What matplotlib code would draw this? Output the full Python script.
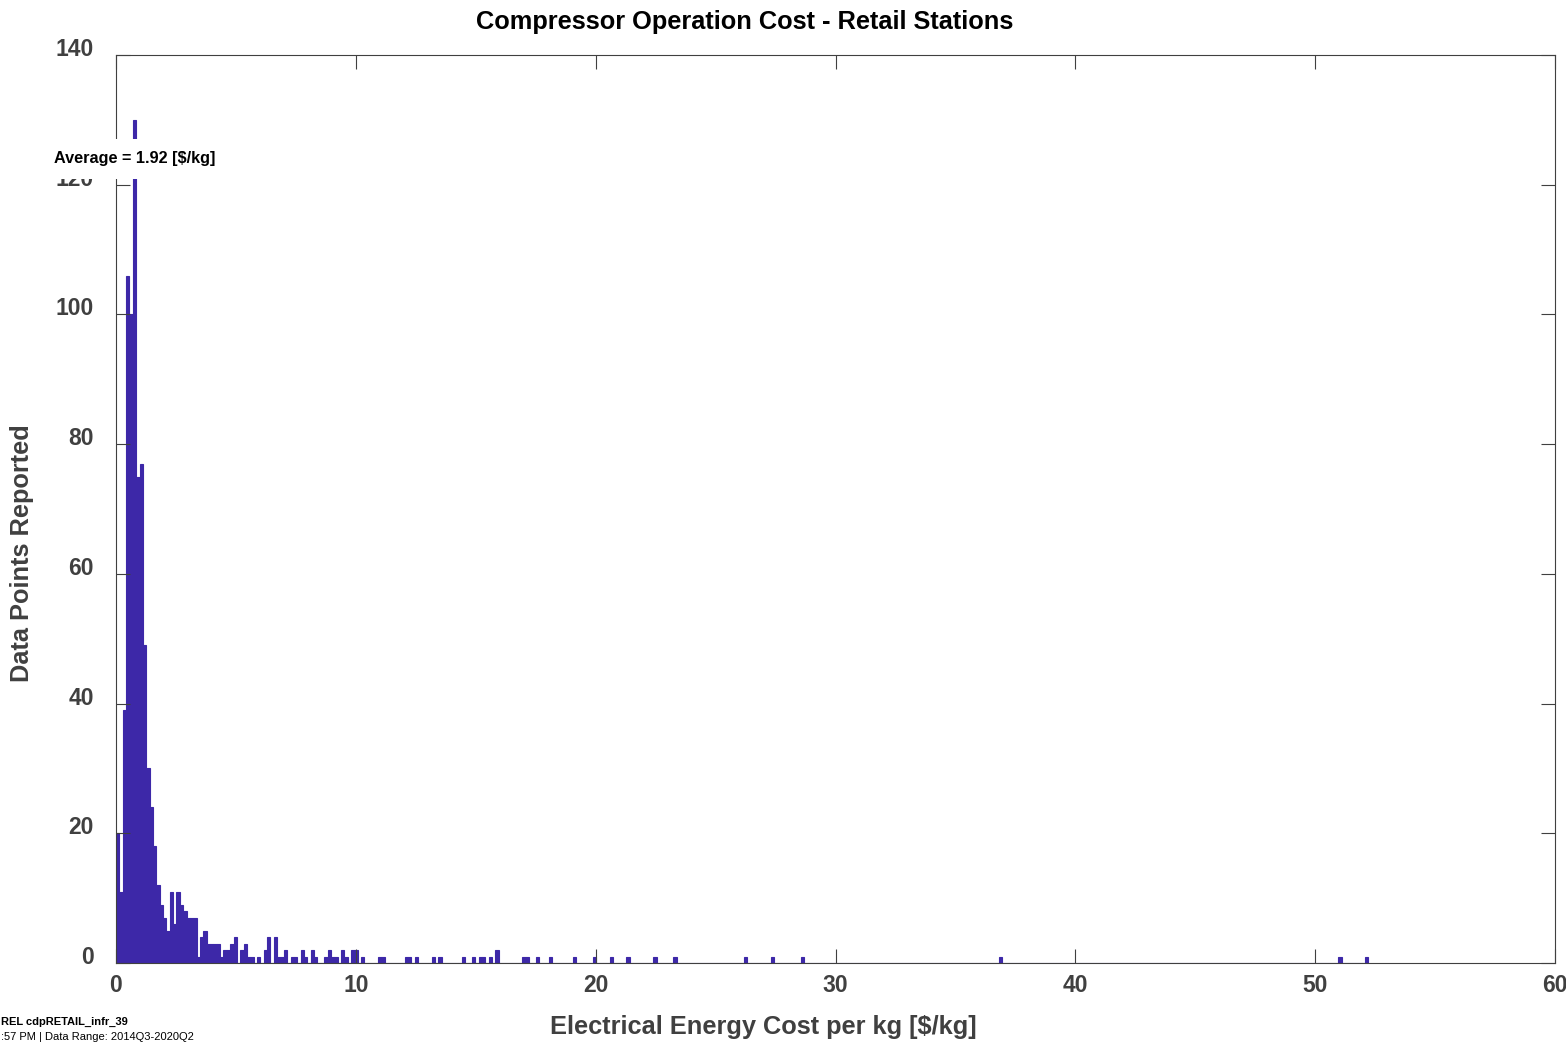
import numpy as np
import matplotlib.pyplot as plt
from matplotlib.transforms import ScaledTranslation

plt.rcParams['font.family'] = ['Liberation Sans', 'DejaVu Sans']

# histogram data, bin width in $/kg
bin_width = 0.14
n_bins = 373

# counts of the first bins, starting at 0 $/kg
dense_counts = [20, 11, 39, 106, 100, 130, 75, 77, 49, 30,
                24, 18, 12, 9, 7, 5, 11, 6, 11, 9,
                8, 7, 7, 7, 1, 4, 5, 3, 3, 3,
                3, 1, 2, 2, 3, 4, 0]

# sparse tail: position [$/kg] and count
tail_x = [5.24, 5.45, 5.56, 5.70, 5.93, 6.21, 6.42, 6.63, 6.77, 6.89,
          7.03, 7.33, 7.54, 7.74, 7.88, 8.23, 8.33, 8.74, 8.92, 9.03,
          9.20, 9.44, 9.56, 9.83, 10.04, 10.31, 11.00, 11.14, 12.07, 12.28,
          12.58, 13.30, 13.50, 14.45, 14.95, 15.20, 15.35, 15.60, 15.95, 16.95,
          17.10, 17.60, 18.10, 19.05, 19.95, 20.60, 21.35, 22.45, 23.25, 26.20,
          27.35, 28.62, 36.93, 51.04, 52.17]
tail_n = [2, 3, 1, 1, 1, 2, 4, 4, 1, 1,
          2, 1, 1, 2, 1, 2, 1, 1, 2, 1,
          1, 2, 1, 2, 2, 1, 1, 1, 1, 1,
          1, 1, 1, 1, 1, 1, 1, 1, 2, 1,
          1, 1, 1, 1, 1, 1, 1, 1, 1, 1,
          1, 1, 1, 1, 1]

average = 1.92
title = 'Compressor Operation Cost - Retail Stations'
xlabel = 'Electrical Energy Cost per kg [$/kg]'
ylabel = 'Data Points Reported'
# footer as far as it is visible in the picture
footer1 = 'REL cdpRETAIL_infr_39'
footer2 = ':57 PM | Data Range: 2014Q3-2020Q2'

counts = np.zeros(n_bins)
counts[:len(dense_counts)] = dense_counts
for x, n in zip(tail_x, tail_n):
    counts[int(x // bin_width)] += n
left_edges = np.arange(n_bins) * bin_width

bar_color = '#3D28A8'
axis_color = '#404040'

fig = plt.figure(figsize=(15.66, 10.43), dpi=100)
ax = fig.add_axes([116 / 1566, 80 / 1043, 1439 / 1566, 908 / 1043])

ax.bar(left_edges, counts, width=bin_width, align='edge',
       color=bar_color, edgecolor=bar_color, linewidth=0.8)

ax.set_xlim(0, 60)
ax.set_ylim(0, 140)
ax.set_xticks(np.arange(0, 61, 10))
ax.set_yticks(np.arange(0, 141, 20))
ax.tick_params(direction='in', length=10, width=0.8, color=axis_color,
               top=True, right=True, labelsize=16.5, labelcolor=axis_color)
ax.tick_params(axis='y', pad=16)
ax.tick_params(axis='x', pad=8)
for lab in ax.get_xticklabels() + ax.get_yticklabels():
    lab.set_fontweight('bold')
for lab in ax.get_yticklabels():
    lab.set_transform(lab.get_transform() + ScaledTranslation(0, 0.08, fig.dpi_scale_trans))
for sp in ax.spines.values():
    sp.set_color(axis_color)
    sp.set_linewidth(0.8)

# label for the average, placed over the peak
peak = np.argmax(counts)
ax.text(left_edges[peak] + bin_width / 2, 124.0, f'Average = {average:.2f} [$/kg]',
        ha='center', va='center', fontsize=11.7, fontweight='bold', color='black',
        bbox=dict(facecolor='white', edgecolor='none', pad=9), zorder=5, clip_on=False)

fig.text(745 / 1566, 1 - 22 / 1043, title, ha='center', va='center',
         fontsize=18.3, fontweight='bold', color='black')
fig.text(763 / 1566, 1 - 1027 / 1043, xlabel, ha='center', va='center',
         fontsize=18.3, fontweight='bold', color=axis_color)
fig.text(22 / 1566, 1 - 553 / 1043, ylabel, ha='center', va='center', rotation=90,
         fontsize=18.3, fontweight='bold', color=axis_color)
fig.text(1 / 1566, 1 - 1022 / 1043, footer1, ha='left', va='center',
         fontsize=8, fontweight='bold', color='black')
fig.text(1 / 1566, 1 / 1043, footer2, ha='left', va='bottom',
         fontsize=8, color='black')

fig.savefig('out.png', dpi=100, facecolor='white')
